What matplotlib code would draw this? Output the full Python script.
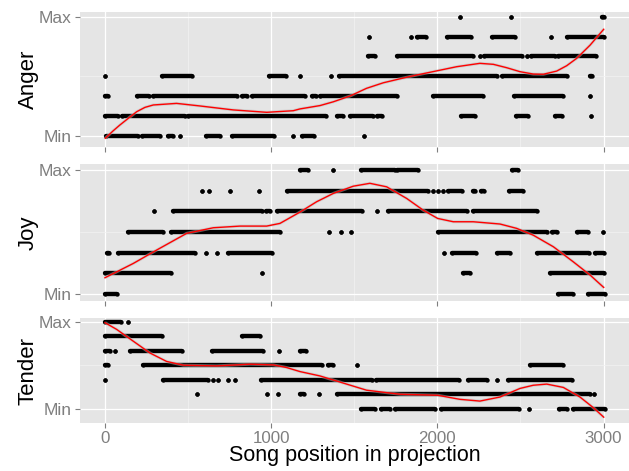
import matplotlib
matplotlib.use("Agg")
import matplotlib.pyplot as plt
from matplotlib.collections import LineCollection
import numpy as np

plt.rcParams['font.family'] = ['Liberation Sans', 'DejaVu Sans']

# ---------------- data ----------------
# runs of points: (level, start position, end position); levels 0 (Min) .. 6 (Max)
anger_runs = [
    (6, 2138, 2138), (6, 2441, 2441), (6, 2990, 3005),
    (5, 1590, 1590), (5, 1841, 1841), (5, 1875, 1932), (5, 2056, 2200), (5, 2329, 2467),
    (5, 2684, 2684), (5, 2778, 3005),
    (4, 1580, 1627), (4, 1759, 2216), (4, 2256, 2256), (4, 2283, 2507), (4, 2537, 2537),
    (4, 2563, 2708), (4, 2728, 2953),
    (3, 2, 2), (3, 341, 526), (3, 985, 1090), (3, 1174, 1174), (3, 1362, 1362),
    (3, 1410, 2357), (3, 2391, 2778), (3, 2920, 2930),
    (2, 2, 20), (2, 191, 265), (2, 291, 796), (2, 823, 857), (2, 887, 1204), (2, 1247, 1270),
    (2, 1294, 1755), (2, 1976, 2277), (2, 2463, 2758), (2, 2919, 2919),
    (1, 2, 76), (1, 100, 481), (1, 501, 1330), (1, 1398, 1434), (1, 1474, 1611),
    (1, 1639, 1669), (1, 2142, 2226), (1, 2471, 2543), (1, 2708, 2748), (1, 2922, 2922),
    (0, 6, 200), (0, 221, 331), (0, 381, 411), (0, 451, 451), (0, 608, 692), (0, 766, 1017),
    (0, 1133, 1133), (0, 1188, 1260), (0, 1558, 1558),
]
joy_runs = [
    (6, 1174, 1224), (6, 1374, 1374), (6, 1540, 1745), (6, 1759, 1885), (6, 2447, 2487),
    (5, 582, 582), (5, 628, 628), (5, 752, 752), (5, 929, 929), (5, 1097, 1942),
    (5, 1972, 1972), (5, 2002, 2002), (5, 2032, 2032), (5, 2066, 2146), (5, 2212, 2225),
    (5, 2260, 2283), (5, 2433, 2517),
    (4, 297, 297), (4, 411, 943), (4, 969, 993), (4, 1037, 1544), (4, 1635, 1635),
    (4, 1705, 2176), (4, 2216, 2598),
    (3, 141, 347), (3, 397, 1053), (3, 1350, 1350), (3, 1420, 1420), (3, 1478, 1478),
    (3, 2002, 2658), (3, 2688, 2718), (3, 2838, 2909), (3, 2999, 2999),
    (2, 10, 26), (2, 80, 542), (2, 606, 606), (2, 676, 676), (2, 738, 1003), (2, 2042, 2042),
    (2, 2086, 2232), (2, 2357, 2437), (2, 2602, 2915), (2, 2949, 3003),
    (1, 0, 395), (1, 947, 947), (1, 2152, 2196), (1, 2678, 3003),
    (0, 0, 70), (0, 2728, 2818), (0, 2909, 3009),
]
tender_runs = [
    (6, 0, 94), (6, 137, 137),
    (5, 0, 341), (5, 827, 933),
    (4, 0, 30), (4, 60, 60), (4, 150, 461), (4, 642, 953), (4, 1047, 1047), (4, 1174, 1209),
    (3, 0, 20), (3, 231, 1304), (3, 1344, 1374), (3, 1518, 1518), (3, 2557, 2758),
    (2, 2, 2), (2, 351, 622), (2, 652, 652), (2, 682, 682), (2, 742, 742), (2, 782, 782),
    (2, 939, 1605), (2, 1631, 2132), (2, 2182, 2297), (2, 2357, 2357), (2, 2423, 2808),
    (1, 552, 552), (1, 973, 973), (1, 1043, 1043), (1, 1174, 1198), (1, 1290, 1290),
    (1, 1394, 2919), (1, 2943, 2943),
    (0, 1540, 1625), (0, 1659, 1715), (0, 1745, 1986), (0, 2022, 2493), (0, 2553, 2553),
    (0, 2734, 2778), (0, 2818, 3009),
]

# smoothed trend curves
anger_curve_x = [2, 50, 90, 141, 191, 241, 291, 431, 572, 772, 973, 1133, 1173, 1294, 1374, 1474,
                 1574, 1675, 1775, 1875, 2002, 2116, 2256, 2337, 2417, 2497, 2577, 2638, 2718,
                 2778, 2838, 2919, 3001]
anger_curve_y = [-0.13, 0.25, 0.54, 0.88, 1.21, 1.43, 1.55, 1.63, 1.50, 1.30, 1.18, 1.26, 1.35,
                 1.52, 1.71, 2.00, 2.39, 2.67, 2.87, 3.06, 3.28, 3.48, 3.65, 3.60, 3.43, 3.23,
                 3.11, 3.10, 3.26, 3.53, 3.90, 4.57, 5.37]
joy_curve_x = [0, 170, 311, 492, 652, 813, 973, 1053, 1174, 1274, 1374, 1494, 1594, 1695, 1815,
               1915, 2002, 2096, 2216, 2377, 2477, 2577, 2698, 2818, 2919, 3001]
joy_curve_y = [0.79, 1.48, 2.13, 2.94, 3.21, 3.29, 3.29, 3.42, 3.97, 4.47, 4.87, 5.22, 5.36, 5.19,
               4.63, 4.06, 3.66, 3.50, 3.50, 3.39, 3.18, 2.85, 2.29, 1.56, 0.92, 0.32]
tender_curve_x = [0, 70, 171, 271, 371, 472, 672, 873, 1013, 1093, 1174, 1294, 1374, 1574, 1775,
                  2002, 2136, 2256, 2377, 2497, 2577, 2658, 2758, 2858, 2939, 3001]
tender_curve_y = [5.93, 5.47, 4.65, 3.84, 3.26, 3.00, 2.95, 3.07, 3.02, 2.84, 2.56, 2.26, 1.98,
                  1.28, 1.00, 0.93, 0.65, 0.53, 0.81, 1.40, 1.62, 1.70, 1.47, 0.81, 0.07, -0.58]

panel_names = ["Anger", "Joy", "Tender"]
x_ticks = [0, 1000, 2000, 3000]
x_tick_labels = ["0", "1000", "2000", "3000"]
y_ticks = [0, 6]
y_tick_labels = ["Min", "Max"]
x_title = "Song position in projection"

# ---------------- layout / style ----------------
W, H = 629, 471
fig = plt.figure(figsize=(W / 100, H / 100), dpi=100)
left_px, right_px = 80, 629
panels_px = [(12.0, 147.3), (164.3, 300.7), (318.3, 423.3)]
ylims = [(-0.585, 6.24), (-0.32, 6.28), (-1.0, 6.23)]
xlim = (-150, 3153)

runs_all = [anger_runs, joy_runs, tender_runs]
curves = [(anger_curve_x, anger_curve_y), (joy_curve_x, joy_curve_y),
          (tender_curve_x, tender_curve_y)]

grey = "#7F7F7F"
dot_pt = 3.15

for i, name in enumerate(panel_names):
    top, bot = panels_px[i]
    ax = fig.add_axes([left_px / W, 1 - bot / H, (right_px - left_px) / W, (bot - top) / H])
    ax.set_facecolor("#E5E5E5")
    for s in ax.spines.values():
        s.set_visible(False)
    ax.set_xlim(*xlim)
    ax.set_ylim(*ylims[i])
    ax.set_xticks(x_ticks)
    ax.set_xticks([500, 1500, 2500], minor=True)
    ax.set_yticks(y_ticks)
    ax.set_yticks([3], minor=True)
    ax.set_yticklabels(y_tick_labels)
    if i == 2:
        ax.set_xticklabels(x_tick_labels)
    else:
        ax.set_xticklabels([])
    ax.tick_params(which="major", length=3.6, width=0.8, color=grey, labelcolor=grey,
                   labelsize=12.5, pad=2.4)
    ax.tick_params(axis="x", which="major", pad=1.6, labelsize=12.2)
    ax.tick_params(which="minor", length=0)
    ax.grid(which="major", color="white", lw=0.9)
    ax.grid(which="minor", color="#F2F2F2", lw=0.5)
    ax.set_axisbelow(True)

    runs = runs_all[i]
    segs = [[(s, l), (e, l)] for (l, s, e) in runs]
    lc = LineCollection(segs, colors="black", linewidths=dot_pt, capstyle="round", zorder=2)
    ax.add_collection(lc)
    px = [s for (l, s, e) in runs] + [e for (l, s, e) in runs]
    py = [l for (l, s, e) in runs] * 2
    ax.scatter(px, py, s=dot_pt ** 2, c="black", linewidths=0, zorder=2)

    cx, cy = curves[i]
    ax.plot(cx, cy, color="#BBBBBB", lw=2.2, alpha=0.5, zorder=3, solid_capstyle="butt")
    ax.plot(cx, cy, color="#FF0000", lw=1.0, zorder=4)

    fig.text(28 / W, 1 - ((top + bot) / 2) / H, name, rotation=90, ha="center", va="center",
             fontsize=16, color="black")

fig.text(((left_px + right_px) / 2) / W, 1 - 461.5 / H, x_title, ha="center", va="baseline",
         fontsize=15.5, color="black")

fig.savefig("out.png", dpi=100)
